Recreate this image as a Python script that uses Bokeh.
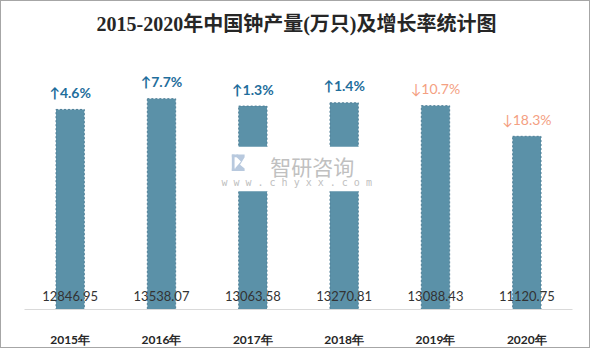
from bokeh.plotting import figure
from bokeh.models import ColumnDataSource, Range1d
from bokeh.core.properties import value
from bokeh.embed import file_html
from bokeh.resources import INLINE

# ---- data ----
years = ["2015年", "2016年", "2017年", "2018年", "2019年", "2020年"]
output = [12846.95, 13538.07, 13063.58, 13270.81, 13088.43, 11120.75]
growth = [4.6, 7.7, 1.3, 1.4, -10.7, -18.3]
title_text = "2015-2020年中国钟产量(万只)及增长率统计图"

value_labels = [f"{v:.2f}" for v in output]
growth_labels = [("↑" if g >= 0 else "↓") + f"{abs(g):.1f}%" for g in growth]

up = [i for i, g in enumerate(growth) if g >= 0]
down = [i for i, g in enumerate(growth) if g < 0]

src = ColumnDataSource(dict(x=years, top=output, vlab=value_labels, glab=growth_labels))
src_up = ColumnDataSource(dict(x=[years[i] for i in up], top=[output[i] for i in up],
                               glab=[growth_labels[i] for i in up]))
src_dn = ColumnDataSource(dict(x=[years[i] for i in down], top=[output[i] for i in down],
                               glab=[growth_labels[i] for i in down]))

W, H = 590, 348
BL, BR, BB = 23, 19, 36
PX_PER_UNIT = 0.015775            # vertical scale (pixels per 万只)
frame_h = H - BB
YMAX = frame_h / PX_PER_UNIT       # frame reaches the top of the canvas
p = figure(x_range=years, y_range=Range1d(0, YMAX), width=W, height=H,
           output_backend="svg", toolbar_location=None,
           min_border_left=BL, min_border_right=BR, min_border_bottom=BB, min_border_top=0)
p.outline_line_color = None
p.background_fill_color = "white"
p.border_fill_color = "white"
p.xgrid.grid_line_color = None
p.ygrid.grid_line_color = None
p.yaxis.visible = False
p.xaxis.axis_line_color = "#d9d9d9"
p.xaxis.major_tick_line_color = None
p.xaxis.minor_tick_line_color = None
p.xaxis.major_label_text_font = "Lato"
p.xaxis.major_label_text_font_style = "bold"
p.xaxis.major_label_text_font_size = "12px"
p.xaxis.major_label_text_color = "#262626"
p.xaxis.major_label_standoff = 16
p.styles = {"border": "1px solid #a6a6a6", "box-sizing": "border-box"}

# title, 23px below the top of the canvas, centred on the canvas
title_x = (W / 2 - BL) / ((W - BL - BR) / len(years))
p.text(x=[title_x], y=[(frame_h - 23) / PX_PER_UNIT], text=[title_text],
       text_align="center", text_baseline="middle",
       text_font=value("'Liberation Serif', 'Noto Sans CJK SC'"), text_font_size="20px",
       text_font_style="bold", text_color="#262626")

p.vbar(x="x", top="top", width=0.31, source=src, fill_color="#5b91a8",
       line_color="#4f7f97", line_dash="2 2", line_width=1)

# value labels at base
p.text(x="x", y=0, text="vlab", source=src, text_align="center", text_baseline="middle",
       y_offset=-14, text_font=value("Lato"), text_font_size="13px", text_color="#333333")

# growth labels
p.text(x="x", y="top", text="glab", source=src_up, text_align="center", text_baseline="middle",
       y_offset=-17, text_font=value("Lato"), text_font_size="14px", text_font_style="bold",
       text_color="#1f6e9c")
p.text(x="x", y="top", text="glab", source=src_dn, text_align="center", text_baseline="middle",
       y_offset=-17, text_font=value("Lato"), text_font_size="14px",
       text_color="#f4a082")

# watermark (decoration)
p.quad(left=[2.17], right=[3.78], bottom=[7600], top=[10450], fill_color="white", line_color=None)
p.quad(left=[2.27, 2.27, 2.27], right=[2.30, 2.34, 2.34], bottom=[8900, 9780, 8900],
       top=[9950, 9950, 9060], fill_color="#b8c9de", line_color=None)
p.patch(x=[2.32, 2.41, 2.41, 2.36, 2.41, 2.41, 2.31, 2.31, 2.37, 2.32],
        y=[9950, 9950, 9780, 9300, 9060, 8900, 8900, 9100, 9500, 9800],
        fill_color="#b8c9de", line_color=None)
p.text(x=[3.15], y=[9230], text=["智研咨询"], text_align="center", text_baseline="middle",
       text_font=value("Noto Sans CJK SC"), text_font_size="21px", text_color="#c0c0c0")
p.text(x=[2.98], y=[8170], text=["w w w . c h y x x . c o m"], text_align="center",
       text_baseline="middle", text_font=value("DejaVu Sans Mono"), text_font_size="10px",
       text_color="#c0c0c0")

open("out.html", "w").write(file_html(p, INLINE))
